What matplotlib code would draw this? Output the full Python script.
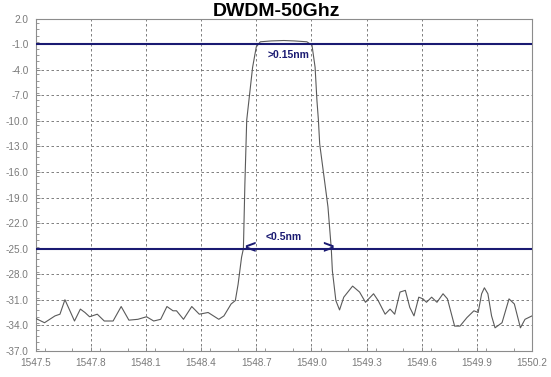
import numpy as np
import matplotlib
matplotlib.use("Agg")
import matplotlib.pyplot as plt
from matplotlib.ticker import MultipleLocator

plt.rcParams["font.family"] = ["Liberation Sans", "DejaVu Sans"]

# spectrum trace (wavelength nm, power dB)
wavelength = [
    1547.500, 1547.548, 1547.605, 1547.632, 1547.659, 1547.682, 1547.711, 1547.743,
    1547.768, 1547.793, 1547.835, 1547.873, 1547.921, 1547.965, 1548.007, 1548.056,
    1548.103, 1548.142, 1548.180, 1548.214, 1548.247, 1548.266, 1548.304, 1548.349,
    1548.390, 1548.438, 1548.496, 1548.524, 1548.563, 1548.586, 1548.601, 1548.620,
    1548.630, 1548.638, 1548.648, 1548.680, 1548.700, 1548.722, 1548.781, 1548.850,
    1548.907, 1548.975, 1549.003, 1549.020, 1549.030, 1549.038, 1549.045, 1549.070,
    1549.090, 1549.108, 1549.114, 1549.133, 1549.153, 1549.176, 1549.224, 1549.262,
    1549.294, 1549.338, 1549.363, 1549.401, 1549.428, 1549.453, 1549.482, 1549.511,
    1549.535, 1549.558, 1549.584, 1549.607, 1549.626, 1549.654, 1549.683, 1549.716,
    1549.740, 1549.779, 1549.808, 1549.846, 1549.884, 1549.907, 1549.926, 1549.941,
    1549.960, 1549.980, 1549.999, 1550.037, 1550.075, 1550.104, 1550.137, 1550.162,
    1550.200,
]
power = [
    -33.2, -33.7, -32.9, -32.7, -31.0, -32.1, -33.5, -32.1,
    -32.5, -33.0, -32.7, -33.5, -33.5, -31.8, -33.4, -33.3,
    -33.0, -33.5, -33.3, -31.8, -32.3, -32.3, -33.3, -31.8,
    -32.7, -32.5, -33.3, -32.9, -31.5, -31.1, -29.2, -26.0,
    -25.0, -17.4, -9.9, -3.7, -1.3, -0.7, -0.6, -0.55,
    -0.6, -0.7, -1.1, -3.7, -7.6, -9.9, -12.7, -16.8,
    -20.1, -25.0, -27.6, -31.1, -32.2, -30.7, -29.4, -30.1,
    -31.3, -30.3, -31.1, -32.7, -32.1, -32.7, -30.1, -29.9,
    -31.9, -32.9, -30.7, -30.9, -31.3, -30.7, -31.3, -30.3,
    -30.9, -34.1, -34.1, -33.1, -32.3, -32.5, -30.3, -29.6,
    -30.3, -32.9, -34.3, -33.7, -30.9, -31.5, -34.3, -33.3,
    -32.9,
]
ref_levels = [-1.0, -25.0]
x_ticks = [1547.5, 1547.8, 1548.1, 1548.4, 1548.7, 1549.0, 1549.3, 1549.6, 1549.9, 1550.2]
x_labels = ["1547.5", "1547.8", "1548.1", "1548.4", "1548.7", "1549.0",
            "1549.3", "1549.6", "1549.9", "1550.2"]
y_ticks = [2.0, -1.0, -4.0, -7.0, -10.0, -13.0, -16.0, -19.0, -22.0, -25.0,
           -28.0, -31.0, -34.0, -37.0]

navy = "#1a1a72"
gray_txt = "#7a7a7a"

fig = plt.figure(figsize=(5.51, 3.77), dpi=100)
ax = fig.add_axes([35.7 / 551, 1 - 350.8 / 377, 496.3 / 551, 332.0 / 377])

ax.set_xlim(1547.5, 1550.2)
ax.set_ylim(-37.0, 2.0)
ax.set_xticks(x_ticks)
ax.set_xticklabels(x_labels)
ax.set_yticks(y_ticks)
ax.set_yticklabels(["%.1f" % v for v in y_ticks])
ax.xaxis.set_minor_locator(MultipleLocator(0.15))
ax.yaxis.set_minor_locator(MultipleLocator(0.75))
ax.tick_params(axis="both", which="major", labelsize=7.2, labelcolor=gray_txt,
               color="#888888", length=3, width=0.7, direction="in", pad=5)
ax.tick_params(axis="both", which="minor", color="#888888", length=2, width=0.6,
               direction="in")

ax.grid(True, which="major", color="#6a6a6a", linestyle=(0, (3, 3)), linewidth=0.6)
for s in ax.spines.values():
    s.set_color("#8c8c8c")
    s.set_linewidth(0.8)

ax.plot(wavelength, power, color="#5a5a5a", linewidth=0.8, zorder=3)

for lvl in ref_levels:
    ax.axhline(lvl, color=navy, linewidth=1.5, zorder=4)

ax.text(1548.873, -2.3, ">0.15nm", color=navy, fontsize=7.5, fontweight="bold",
        ha="center", va="center", zorder=5)
ax.text(1548.847, -23.6, "<0.5nm", color=navy, fontsize=7.5, fontweight="bold",
        ha="center", va="center", zorder=5)
ax.text(1548.663, -25.0, "<", color=navy, fontsize=14, fontweight="bold",
        ha="center", va="center", zorder=5)
ax.text(1549.087, -25.0, ">", color=navy, fontsize=14, fontweight="bold",
        ha="center", va="center", zorder=5)

fig.text(277 / 551, 1 - 11 / 377, "DWDM-50Ghz", fontsize=14, fontweight="bold",
         ha="center", va="center")

fig.savefig("out.png", dpi=100)
